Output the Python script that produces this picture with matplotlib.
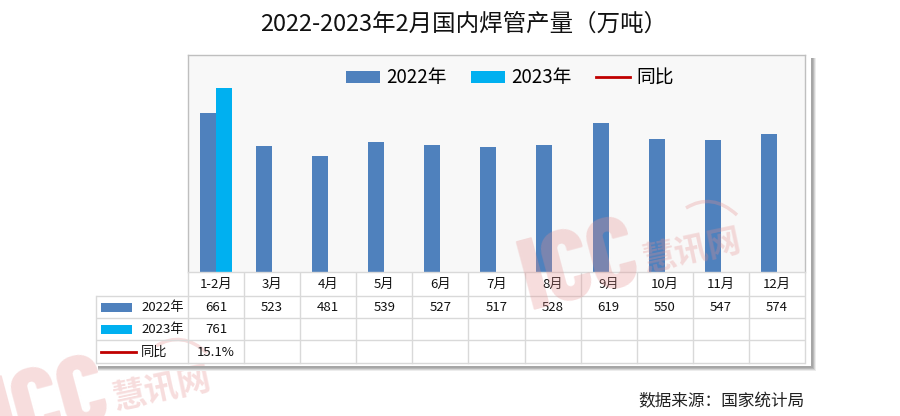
import matplotlib
matplotlib.use('Agg')
import matplotlib.pyplot as plt
from matplotlib.patches import Rectangle, PathPatch
from matplotlib.path import Path
from matplotlib.lines import Line2D

plt.rcParams['font.family'] = ['Noto Sans CJK SC', 'DejaVu Sans']

months = ['1-2月', '3月', '4月', '5月', '6月', '7月', '8月', '9月', '10月', '11月', '12月']
values_2022 = [661, 523, 481, 539, 527, 517, 528, 619, 550, 547, 574]
values_2023 = [761]
yoy_labels = ['15.1%']
series_names = ['2022年', '2023年', '同比']
title_text = '2022-2023年2月国内焊管产量（万吨）'
source_text = '数据来源：国家统计局'

C22, C23, CY = '#4f81bd', '#00b0f0', '#c00000'
GRID = '#d9d9d9'
W, H = 900, 416
L, R, T, B = 188.5, 805.5, 55.5, 272.5
rows = [272.5, 296.5, 318.5, 340.5, 363.5]
LEFT = 96

fig = plt.figure(figsize=(W / 100, H / 100), dpi=100, facecolor='white')
bg = fig.add_axes([0, 0, 1, 1], zorder=0)
bg.set_xlim(0, W); bg.set_ylim(H, 0); bg.axis('off')


def watermark(a, dx, dy, z):
    wm = '#e58f8f'
    a.text(530 + dx, 310 + dy, 'ICC', rotation=15, rotation_mode='anchor', fontsize=72, fontweight=800,
           family=['Barlow Condensed', 'Liberation Sans Narrow', 'DejaVu Sans'], color=wm, alpha=.3,
           ha='left', va='baseline', zorder=z)
    a.text(645 + dx, 271 + dy, '慧讯网', rotation=12, rotation_mode='anchor', fontsize=24, fontweight='bold',
           color=wm, alpha=.3, ha='left', va='baseline', zorder=z)
    verts = [(686 + dx, 208 + dy), (712 + dx, 192 + dy), (737 + dx, 215 + dy)]
    a.add_patch(PathPatch(Path(verts, [Path.MOVETO, Path.CURVE3, Path.CURVE3]), fc='none', ec=wm, lw=2.5,
                          alpha=.3, zorder=z))


watermark(bg, -530, 138, 0.5)

# drop shadow band of the chart frame
for off, col in [(5, '#ececec'), (4, '#d4d4d4'), (3, '#b8b8b8'), (2, '#a6a6a6')]:
    bg.add_patch(Rectangle((98, 366), 713 + off, off, fc=col, ec='none', zorder=1))
    bg.add_patch(Rectangle((811, 58), off, 308 + off, fc=col, ec='none', zorder=1))

ax = fig.add_axes([(L - 0.6) / W, 1 - (B - 0.6) / H, (R - L) / W, (B - T) / H], zorder=1)
ax.set_facecolor('#f8f8f8')
n = len(months)
ax.set_xlim(-0.5, n - 0.5)
ax.set_ylim(0, 900)
bw = 16 / ((R - L) / n)
xs = list(range(n))
ax.bar([x - bw / 2 for x in xs], values_2022, width=bw, color=C22, zorder=2)
ax.bar([x + bw / 2 for x in xs[:len(values_2023)]], values_2023, width=bw, color=C23, zorder=2)
ax.set_xticks([]); ax.set_yticks([])
for s in ax.spines.values():
    s.set_color('#bfbfbf'); s.set_linewidth(1)
ax.spines['bottom'].set_color(GRID)

# legend in the plot area
handles = [Rectangle((0, 0), 1, 1, fc=C22), Rectangle((0, 0), 1, 1, fc=C23), Line2D([0], [0], color=CY, lw=2)]
ax.legend(handles, series_names, loc='center', bbox_to_anchor=(0.522, 0.894), ncol=3, frameon=False,
          fontsize=13.5, handlelength=1.8, handleheight=0.6, columnspacing=1.3, handletextpad=0.35,
          borderpad=0, borderaxespad=0)

# data table
ov = fig.add_axes([0, 0, 1, 1], zorder=2)
ov.set_xlim(0, W); ov.set_ylim(H, 0); ov.axis('off')
cw = (R - L) / n
for y in rows[1:]:
    ov.plot([LEFT, R - 0.5], [y - 0.5, y - 0.5], color=GRID, lw=1, solid_capstyle='butt')
ov.plot([LEFT - 0.5, LEFT - 0.5], [rows[1] - 0.5, rows[-1] - 0.5], color=GRID, lw=1)
for i in range(n + 1):
    ov.plot([L + i * cw - 0.5] * 2, [rows[0], rows[-1] - 0.5], color=GRID, lw=1)

fs = 9.5
TC = '#111111'


def rc(r):
    return (rows[r] + rows[r + 1]) / 2


for i, m in enumerate(months):
    cx = L + (i + .5) * cw - 0.5
    ov.text(cx, rc(0), m, ha='center', va='center', fontsize=fs, color=TC)
    ov.text(cx, rc(1), str(values_2022[i]), ha='center', va='center', fontsize=fs, color=TC)
for i, v in enumerate(values_2023):
    ov.text(L + (i + .5) * cw - 0.5, rc(2), str(v), ha='center', va='center', fontsize=fs, color=TC)
for i, v in enumerate(yoy_labels):
    ov.text(L + (i + .5) * cw - 0.5, rc(3), v, ha='center', va='center', fontsize=fs, color=TC)

ov.add_patch(Rectangle((101, rc(1) - 4.5), 31, 9, fc=C22, ec='none'))
ov.add_patch(Rectangle((101, rc(2) - 4.5), 31, 9, fc=C23, ec='none'))
ov.plot([101, 135.5], [rc(3), rc(3)], color=CY, lw=2)
for r, s in zip((1, 2, 3), series_names):
    ov.text(141, rc(r), s, ha='left', va='center', fontsize=fs, color=TC)

# titles
ov.text(464, 24, title_text, ha='center', va='center', fontsize=16.9, color=TC)
ov.text(805, 402, source_text, ha='right', va='center', fontsize=12, color='#222222')

watermark(ov, 0, 0, 5)

fig.savefig('out.png', dpi=100)
